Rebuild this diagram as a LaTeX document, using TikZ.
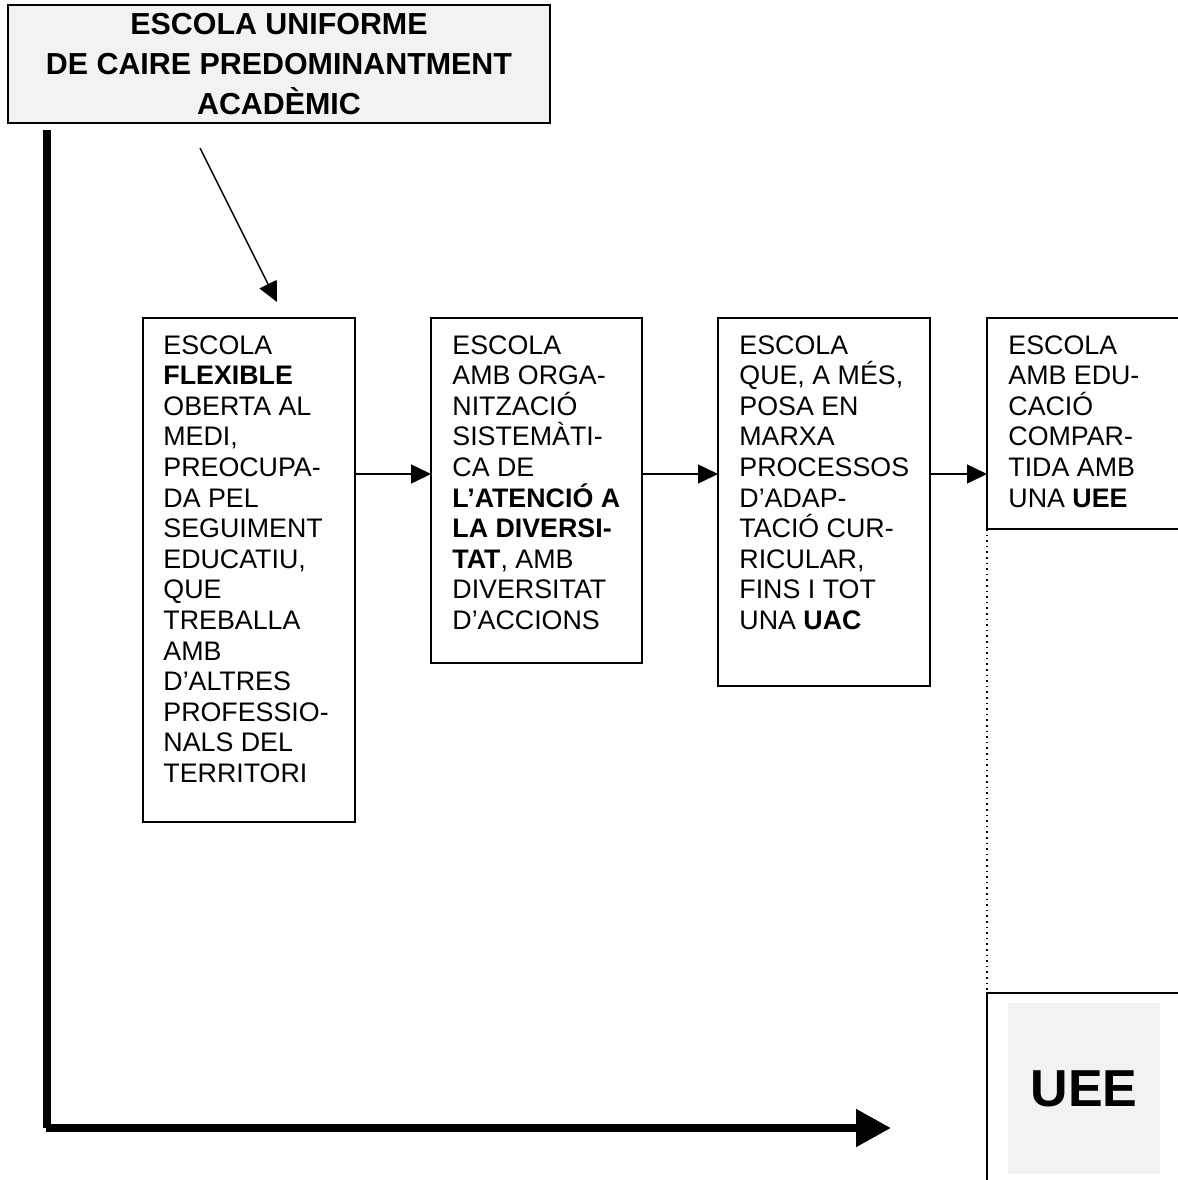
\documentclass[tikz,border=0pt]{standalone}
\usepackage{fontspec}
\setmainfont{Liberation Sans}
\usetikzlibrary{arrows.meta}
\definecolor{boxgray}{HTML}{F2F2F2}
\begin{document}
\begin{tikzpicture}[x=0.5pt,y=-0.5pt,
  frame/.style={draw=black,line width=1pt,inner sep=0pt,outer sep=0pt,anchor=north west},
  boxtext/.style={inner sep=0pt,anchor=north west,align=left,font=\fontsize{13.4}{15.3}\selectfont},
  thinarrow/.style={line width=0.75pt,-{Triangle[length=10pt,width=9.5pt]}},
  axis/.style={line width=4pt},
]
\useasboundingbox (0,0) rectangle (1178,1180);
% title
\node[frame,fill=boxgray,line width=1.3pt,minimum width=271pt,minimum height=59pt] (title) at (8,5) {};
\node[inner sep=0pt,align=center,font=\fontsize{15.2}{19.8}\selectfont\bfseries] (titletext) at (title.center)
  {ESCOLA UNIFORME\\DE CAIRE PREDOMINANTMENT\\ACADÈMIC};
% boxes
\node[frame,minimum width=106pt,minimum height=252pt] (b1) at (143,318) {};
\node[frame,minimum width=105.5pt,minimum height=172.5pt] (b2) at (431,318) {};
\node[frame,minimum width=106pt,minimum height=184pt] (b3) at (718,318) {};
\node[frame,minimum width=120pt,minimum height=105.5pt] (b4) at (987,318) {};
\node[boxtext] (t1) at (163,335) {ESCOLA\\\textbf{FLEXIBLE}\\OBERTA AL\\MEDI,\\PREOCUPA-\\DA PEL\\SEGUIMENT\\EDUCATIU,\\QUE\\TREBALLA\\AMB\\D’ALTRES\\PROFESSIO-\\NALS DEL\\TERRITORI};
\node[boxtext] (t2) at (452,335) {ESCOLA\\AMB ORGA-\\NITZACIÓ\\SISTEMÀTI-\\CA DE\\\textbf{L’ATENCIÓ A}\\\textbf{LA DIVERSI-}\\\textbf{TAT}, AMB\\DIVERSITAT\\D’ACCIONS};
\node[boxtext] (t3) at (739,335) {ESCOLA\\QUE, A MÉS,\\POSA EN\\MARXA\\PROCESSOS\\D’ADAP-\\TACIÓ CUR-\\RICULAR,\\FINS I TOT\\UNA \textbf{UAC}};
\node[boxtext] (t4) at (1008,335) {ESCOLA\\AMB EDU-\\CACIÓ\\COMPAR-\\TIDA AMB\\UNA \textbf{UEE}};
% UEE box
\node[frame,minimum width=120pt,minimum height=120pt] (ueebox) at (987,993) {};
\node[inner sep=0pt,outer sep=0pt,anchor=north west,fill=boxgray,minimum width=76pt,minimum height=85.5pt] (ueein) at (1008,1003) {};
\node[inner sep=0pt,font=\fontsize{26}{30}\selectfont\bfseries] (ueetext) at (ueein.center) {UEE};
% connectors between boxes
\coordinate (arrowrow) at (0,474);
\draw[thinarrow] (b1.east |- arrowrow) -- (b2.west |- arrowrow);
\draw[thinarrow] (b2.east |- arrowrow) -- (b3.west |- arrowrow);
\draw[thinarrow] (b3.east |- arrowrow) -- (b4.west |- arrowrow);
\draw[line width=0.8pt,dotted] (b4.south west) -- (ueebox.north west);
% arrow from title
\coordinate (astart) at (200,148);
\coordinate (aend) at (277,302);
\draw[thinarrow] (astart) -- (aend);
% axes
\coordinate (ytop) at (47,130);
\coordinate (ybot) at (47,1128);
\coordinate (xstart) at (46,1128);
\coordinate (xend) at (891,1128);
\draw[axis] (ytop) -- (ybot);
\draw[axis,-{Triangle[length=17.5pt,width=18pt]}] (xstart) -- (xend);
\end{tikzpicture}
\end{document}
